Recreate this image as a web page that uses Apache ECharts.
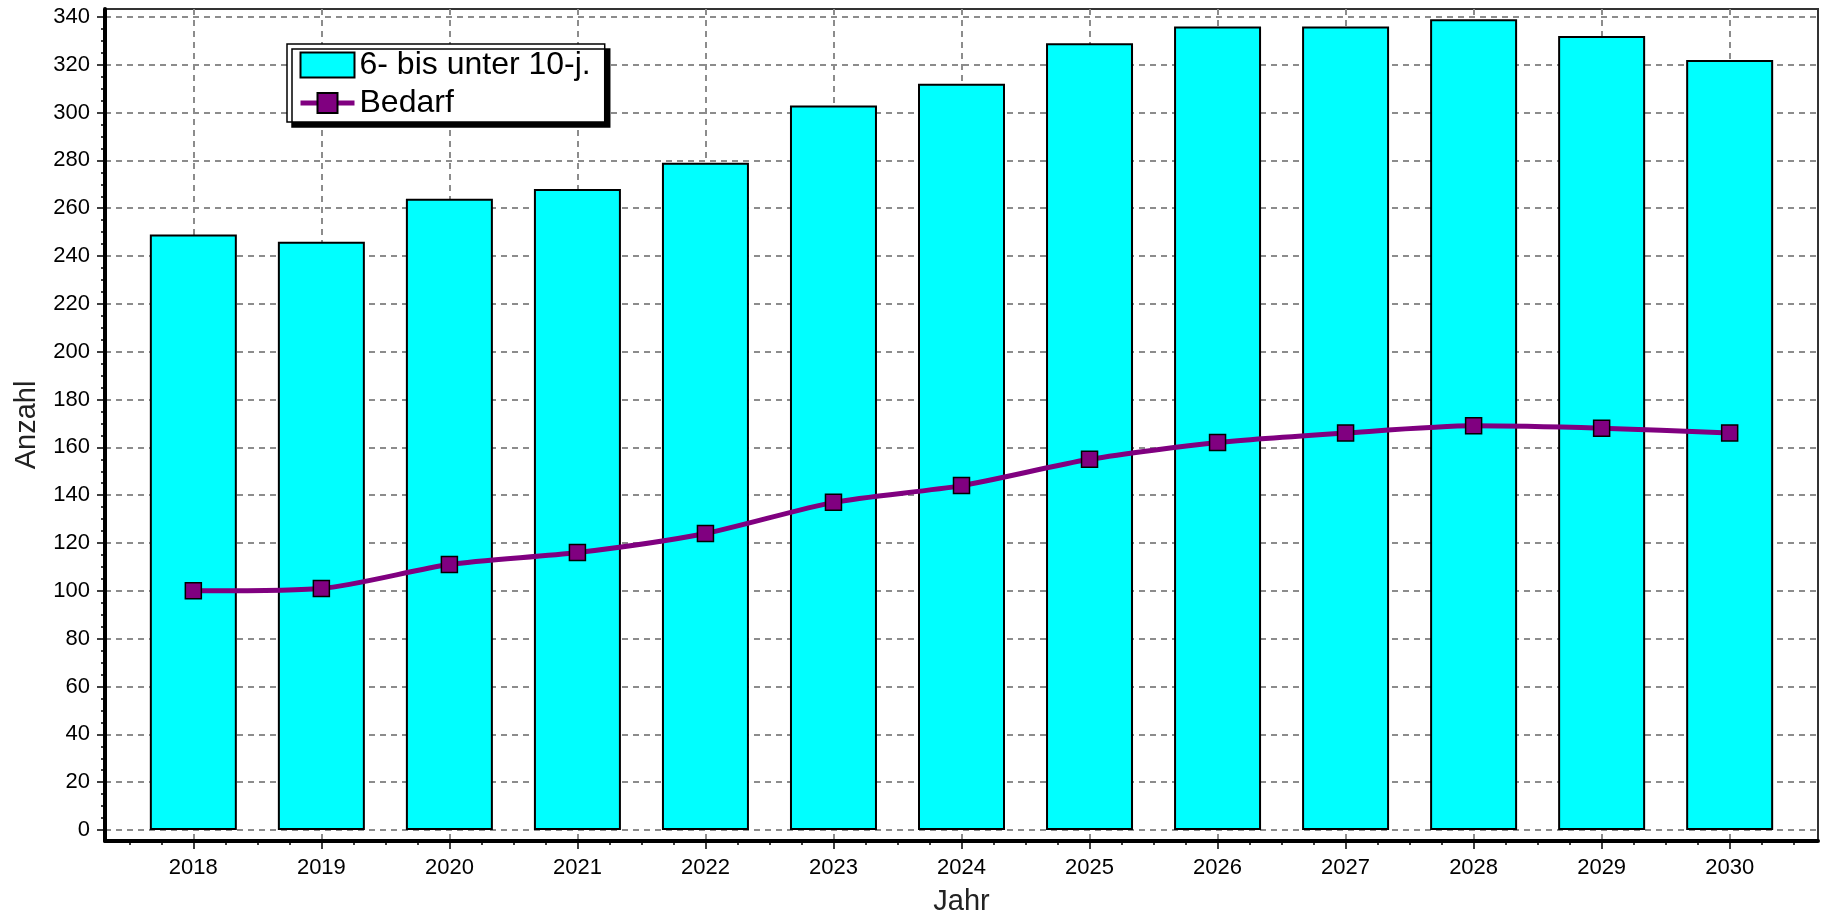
<!DOCTYPE html>
<html lang="de">
<head>
<meta charset="UTF-8">
<title>Bedarf 6- bis unter 10-j.</title>
<style>
    html, body { margin: 0; padding: 0; background: #fff; }
    #main { width: 1825px; height: 921px; }
</style>
</head>
<body>
<div id="main"></div>
<script src="https://cdn.jsdelivr.net/npm/echarts@6/dist/echarts.min.js"></script>
<script type="text/javascript">
    // Werte
    const years = ['2018', '2019', '2020', '2021', '2022', '2023', '2024', '2025', '2026', '2027', '2028', '2029', '2030'];
    const kinder = [249, 246, 264, 268, 279, 303, 312, 329, 336, 336, 339, 332, 322];
    const bedarf = [100, 101, 111, 116, 124, 137, 144, 155, 162, 166, 169, 168, 166];
    const yTicks = [0, 20, 40, 60, 80, 100, 120, 140, 160, 180, 200, 220, 240, 260, 280, 300, 320, 340];

    const font = '"Liberation Sans", Arial, sans-serif';
    const chart = echarts.init(document.getElementById('main'));

    // x is a value axis over the category index, so the frame can reach past the outer bars
    const xIdx = years.map((y, i) => i);

    chart.setOption({
        animation: false,
        backgroundColor: '#fff',
        textStyle: { fontFamily: font, color: '#000' },
        grid: {
            left: 105, right: 7, top: 9, bottom: 78,
            show: true,
            borderColor: '#333',
            borderWidth: 2,
            backgroundColor: 'transparent'
        },
        legend: {
            orient: 'vertical',
            left: 287,
            top: 44,
            padding: [5, 14, 3, 11],
            itemGap: 6,
            itemWidth: 54,
            itemHeight: 25,
            backgroundColor: '#fff',
            borderColor: '#000',
            borderWidth: 1.5,
            shadowColor: '#000',
            shadowBlur: 0,
            shadowOffsetX: 5,
            shadowOffsetY: 5,
            textStyle: { fontFamily: font, fontSize: 32, color: '#000' },
            data: [
                { name: '6- bis unter 10-j.', icon: 'rect' },
                { name: 'Bedarf', lineStyle: { width: 5, color: '#800080' } }
            ]
        },
        xAxis: {
            type: 'value',
            min: -0.69,
            max: 12.69,
            minInterval: 1,
            maxInterval: 1,
            name: 'Jahr',
            nameLocation: 'middle',
            nameGap: 46,
            nameTextStyle: { fontFamily: font, fontSize: 29, color: '#222' },
            axisLine: { onZero: false, lineStyle: { color: '#000', width: 4 } },
            axisTick: { customValues: xIdx, length: 8, lineStyle: { color: '#000', width: 1.5 } },
            minorTick: { show: true, splitNumber: 4, length: 4, lineStyle: { color: '#000', width: 1.5 } },
            axisLabel: {
                customValues: xIdx,
                margin: 16,
                fontFamily: font,
                fontSize: 22,
                color: '#000',
                formatter: v => years[Math.round(v)] || ''
            },
            splitLine: { show: true, lineStyle: { color: '#8c8c8c', width: 2, type: [6, 5] } }
        },
        yAxis: {
            type: 'value',
            min: -4.6,
            max: 343.3,
            minInterval: 20,
            maxInterval: 20,
            name: 'Anzahl',
            nameLocation: 'middle',
            nameGap: 64,
            nameTextStyle: { fontFamily: font, fontSize: 29, color: '#222' },
            axisLine: { show: true, onZero: false, lineStyle: { color: '#000', width: 4 } },
            axisTick: { show: true, customValues: yTicks, length: 8, lineStyle: { color: '#000', width: 1.5 } },
            minorTick: { show: true, splitNumber: 4, length: 4, lineStyle: { color: '#000', width: 1.5 } },
            axisLabel: {
                customValues: yTicks,
                margin: 15,
                fontFamily: font,
                fontSize: 22,
                color: '#000'
            },
            splitLine: { show: true, lineStyle: { color: '#8c8c8c', width: 2, type: [6, 5] } }
        },
        series: [
            {
                name: '6- bis unter 10-j.',
                type: 'bar',
                barWidth: 87,
                data: kinder.map((v, i) => [i, v]),
                itemStyle: { color: '#00ffff', borderColor: '#000', borderWidth: 2 }
            },
            {
                name: 'Bedarf',
                type: 'line',
                smooth: 0.25,
                symbol: 'rect',
                symbolSize: 16,
                data: bedarf.map((v, i) => [i, v]),
                lineStyle: { color: '#800080', width: 5 },
                itemStyle: { color: '#800080', borderColor: '#000', borderWidth: 1.5 },
                z: 5
            }
        ]
    });
</script>
</body>
</html>
